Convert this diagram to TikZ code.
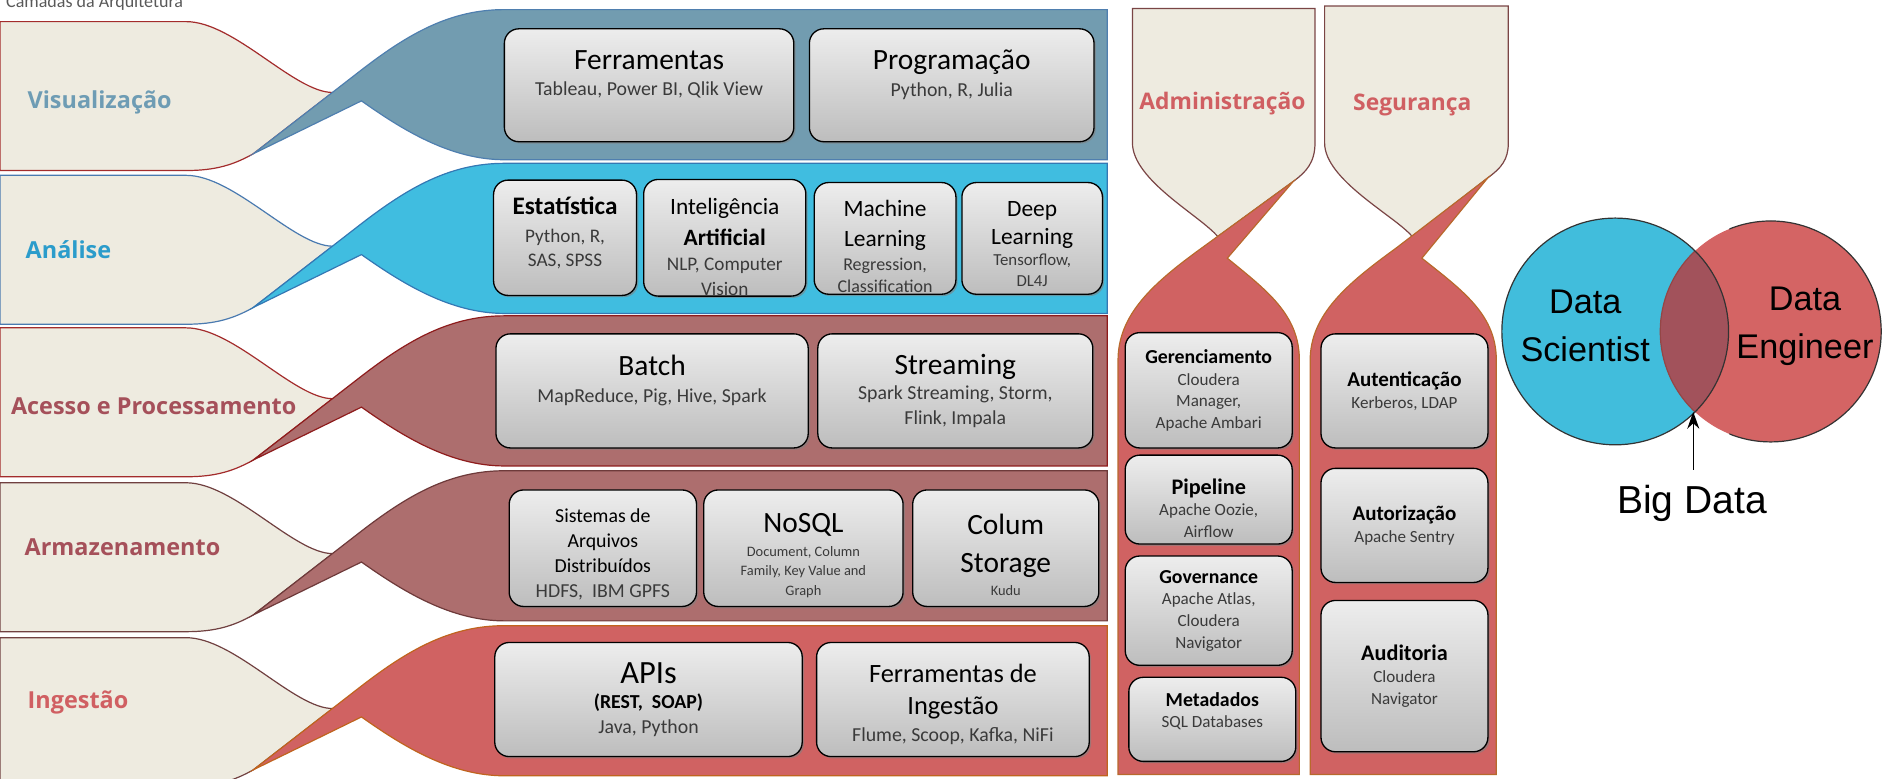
\documentclass[tikz,border=0pt]{standalone}
\usepackage{fontspec}
\setmainfont{Carlito}
\newfontfamily\labelfont{Open Sans}
\newfontfamily\vennfont{Liberation Sans}
\usetikzlibrary{shadows,arrows.meta}

\definecolor{beige}{HTML}{EEEBE0}
\definecolor{vizband}{HTML}{729CB0}
\definecolor{vizline}{HTML}{4F7FAF}
\definecolor{anaband}{HTML}{40BDE0}
\definecolor{analine}{HTML}{3478B4}
\definecolor{accband}{HTML}{AD6E6E}
\definecolor{accline}{HTML}{8E1C1C}
\definecolor{armband}{HTML}{AD6E6E}
\definecolor{armline}{HTML}{6E3A3A}
\definecolor{ingband}{HTML}{D06262}
\definecolor{ingline}{HTML}{C0641E}
\definecolor{tabred}{HTML}{A32C2C}
\definecolor{tabblue}{HTML}{4A7AB0}
\definecolor{tabbrown}{HTML}{704040}
\definecolor{colband}{HTML}{D06262}
\definecolor{colline}{HTML}{B8692C}
\definecolor{coltab}{HTML}{7A4545}
\definecolor{boxtop}{HTML}{EDEDED}
\definecolor{boxbot}{HTML}{BDBDBD}
\definecolor{subgray}{HTML}{3A3A3A}
\definecolor{vizlab}{HTML}{6E9CB4}
\definecolor{analab}{HTML}{2B9CCB}
\definecolor{acclab}{HTML}{A5505A}
\definecolor{inglab}{HTML}{D05F62}
\definecolor{venncyan}{HTML}{41BDDC}
\definecolor{vennred}{HTML}{D46464}
\definecolor{vennmid}{HTML}{A2525B}

\newcommand{\fttl}{\fontsize{24.5}{28}\selectfont\color{black}}
\newcommand{\fmid}{\fontsize{19.5}{24}\selectfont\color{black}}
\newcommand{\fsml}{\fontsize{12}{16}\selectfont}
\newcommand{\fadm}{\fontsize{16.5}{20}\selectfont\bfseries\color{black}}
\newcommand{\hd}{\color{black}}

\begin{document}
\begin{tikzpicture}[x=1pt, y=-1pt,
	box/.style={draw=black, line width=1.1pt, rounded corners=12pt,
		top color=boxtop, bottom color=boxbot, align=center, inner sep=0pt,
		drop shadow={shadow xshift=1.5pt, shadow yshift=-1.5pt, opacity=.6},
		font=\fontsize{16.5}{21}\selectfont, text=subgray},
	admbox/.style={box, font=\fontsize{14.2}{18}\selectfont},
	layer/.style={font=\labelfont\bfseries\fontsize{19.5}{22}\selectfont},
	column/.style={font=\labelfont\bfseries\fontsize{19}{22}\selectfont, text=inglab},
	venntext/.style={font=\vennfont\fontsize{28.5}{40}\selectfont, align=center}]
	\useasboundingbox (0,0) rectangle (1568,648);
	\clip (0,0) rectangle (1568,648);
	% title, cut at the top
	\node[anchor=base west, inner sep=0pt, text=black!65, font=\fontsize{15}{18}\selectfont] (title) at (5,6) {Camadas da Arquitetura};
	% tabs and bands of the layers
	\foreach \t/\fc/\dc/\tc in {18/vizband/vizline/tabred, 146/anaband/analine/tabblue, 273/accband/accline/tabred, 402/armband/armline/tabbrown, 531/ingband/ingline/tabbrown}
	{
		\filldraw[fill=beige, draw=\tc, line width=1pt] (0,\t) -- (155,\t) .. controls (195,\t) and (245,\t+59) .. (277,\t+59) -- (211,\t+110) .. controls (195,\t+119) and (180,\t+124) .. (155,\t+124) -- (0,\t+124) -- cycle;
		\filldraw[fill=\fc, draw=\dc, line width=1pt] (211,\t+110) -- (300,\t+41) .. controls (340,\t+10) and (375,\t-10) .. (420,\t-10) -- (922,\t-10) -- (922,\t+115) -- (420,\t+115) .. controls (375,\t+115) and (335,\t+90) .. (301,\t+66) -- cycle;
	}
	% layer names
	\node[layer, text=vizlab] (viz) at (83,85) {Visualização};
	\node[layer, text=analab] (ana) at (57,208) {Análise};
	\node[layer, text=acclab] (acc) at (128,338) {Acesso e Processamento};
	\node[layer, text=acclab] (arm) at (102,456) {Armazenamento};
	\node[layer, text=inglab] (ing) at (65,585) {Ingestão};
	% columns Administração and Segurança
	\filldraw[fill=beige, draw=coltab, line width=1pt] (943,7) -- (1095,7) -- (1095,119) .. controls (1095,135) and (1088,143) .. (1077,151) -- (1014,197) .. controls (1000,180) and (943,150) .. (943,119) -- cycle;
	\filldraw[fill=colband, draw=colline, line width=1pt] (1077,151) -- (1000,207) .. controls (960,236) and (931,262) .. (931,300) -- (931,645) -- (1082,645) -- (1082,300) .. controls (1082,262) and (1055,242) .. (1022,215) -- cycle;
	\filldraw[fill=beige, draw=coltab, line width=1pt] (1103,5) -- (1256,5) -- (1256,119) .. controls (1256,133) and (1250,140) .. (1239,148) -- (1176,197) .. controls (1162,180) and (1103,150) .. (1103,119) -- cycle;
	\filldraw[fill=colband, draw=colline, line width=1pt] (1239,148) -- (1162,207) .. controls (1122,236) and (1091,262) .. (1091,300) -- (1091,645) -- (1246,645) -- (1246,300) .. controls (1246,262) and (1218,242) .. (1184,215) -- cycle;
	\node[column] (adm) at (1018,86) {Administração};
	\node[column] (seg) at (1176,87) {Segurança};
	% Visualização
	\node[box, minimum width=241pt, minimum height=94pt] (ferr) at (540.5,71) {{\fttl Ferramentas}\\[1pt]Tableau, Power BI, Qlik View\\[-7pt]\strut};
	\node[box, minimum width=237pt, minimum height=94pt] (prog) at (792.5,71) {{\fttl Programação}\\[1pt]Python, R, Julia\\[-7pt]\strut};
	% Análise
	\node[box, minimum width=119pt, minimum height=96pt, font=\fontsize{16}{20}\selectfont] (est) at (470.5,198) {{\fontsize{21}{24}\selectfont\bfseries\hd Estatística}\\[3pt]Python, R,\\SAS, SPSS\\[-16pt]\strut};
	\node[box, minimum width=135pt, minimum height=96pt, font=\fontsize{16}{21}\selectfont] (ia) at (603.5,198) {{\fmid\rule{0pt}{29pt}Inteligência}\\[5pt]{\fmid\bfseries Artificial}\\NLP, Computer\\Vision};
	\node[box, minimum width=118pt, minimum height=93pt, font=\fontsize{15}{19}\selectfont] (ml) at (737,198.5) {{\fmid\rule{0pt}{27pt}Machine}\\[6pt]{\fmid Learning}\\[1pt]Regression,\\Classification};
	\node[box, minimum width=117pt, minimum height=93pt, font=\fontsize{14}{17}\selectfont] (dl) at (859.5,198.5) {{\fmid\rule{0pt}{22pt}Deep}\\[6pt]{\fmid Learning}\\[1pt]Tensorflow,\\DL4J};
	% Acesso e Processamento
	\node[box, minimum width=260pt, minimum height=95pt] (batch) at (543,325.5) {{\fttl Batch}\\[1pt]MapReduce, Pig, Hive, Spark\\[-7pt]\strut};
	\node[box, minimum width=229pt, minimum height=95pt] (stream) at (795.5,325.5) {{\fttl Streaming}\\Spark Streaming, Storm,\\Flink, Impala};
	% Armazenamento
	\node[box, minimum width=156pt, minimum height=97pt] (sis) at (502,456.5) {{\hd\rule{0pt}{22pt}Sistemas de}\\{\hd Arquivos}\\{\hd Distribuídos}\\HDFS,\ \ IBM GPFS};
	\node[box, minimum width=166pt, minimum height=97pt, font=\fsml] (nosql) at (669,456.5) {{\fttl\rule{0pt}{28pt}NoSQL}\\[4pt]Document, Column\\Family, Key Value and\\Graph};
	\node[box, minimum width=155pt, minimum height=97pt, font=\fsml] (colum) at (837.5,456.5) {{\fttl\rule{0pt}{28pt}Colum}\\[14pt]{\fttl Storage}\\[3pt]Kudu};
	% Ingestão
	\node[box, minimum width=256pt, minimum height=95pt] (api) at (540,582.5) {{\fontsize{27}{30}\selectfont\hd APIs}\\{\bfseries\hd (REST,\ \ SOAP)}\\Java, Python};
	\node[box, minimum width=227pt, minimum height=95pt] (fing) at (793.5,582.5) {{\fontsize{22}{26}\selectfont\hd\rule{0pt}{24pt}Ferramentas de}\\[5pt]{\fontsize{22}{26}\selectfont\hd Ingestão}\\[2pt]Flume, Scoop, Kafka, NiFi};
	% Administração
	\node[admbox, minimum width=139pt, minimum height=96pt] (ger) at (1006.5,325) {{\fadm Gerenciamento}\\Cloudera\\Manager,\\Apache Ambari};
	\node[admbox, minimum width=139pt, minimum height=74pt] (pipe) at (1006.5,416) {{\fadm\fontsize{18.5}{22}\selectfont\rule{0pt}{27pt}Pipeline}\\Apache Oozie,\\Airflow};
	\node[admbox, minimum width=139pt, minimum height=91pt] (gov) at (1006.5,508.5) {{\fadm Governance}\\Apache Atlas,\\Cloudera\\Navigator};
	\node[admbox, minimum width=139pt, minimum height=70pt] (meta) at (1009.5,599) {{\fadm Metadados}\\SQL Databases\\[-8pt]\strut};
	% Segurança
	\node[admbox, minimum width=139pt, minimum height=95pt] (aut) at (1169.5,325.5) {{\fadm\fontsize{17.5}{21}\selectfont Autenticação}\\Kerberos, LDAP};
	\node[admbox, minimum width=139pt, minimum height=95pt] (autz) at (1169.5,437.5) {{\fadm\fontsize{17.5}{21}\selectfont Autorização}\\Apache Sentry};
	\node[admbox, minimum width=139pt, minimum height=126pt] (aud) at (1169.5,563) {{\fadm\fontsize{18.5}{22}\selectfont Auditoria}\\Cloudera\\Navigator};
	% Venn diagram
	\coordinate (sci) at (1345,276);
	\coordinate (eng) at (1474.5,276);
	\fill[venncyan] (sci) circle (94.4);
	\fill[vennred] (eng) circle (92);
	\begin{scope}
		\clip (sci) circle (94.4);
		\fill[vennmid] (eng) circle (92);
		\draw[vennred!70!black, line width=1pt] (eng) circle (92);
	\end{scope}
	\draw[black!80, line width=1pt] (sci) circle (94.4);
	\begin{scope}
		\clip (1568,0) rectangle (1440,648);
		\draw[black!80, line width=1pt] (eng) circle (92);
	\end{scope}
	\node[venntext] (scit) at (1320,271) {Data\\Scientist};
	\node[venntext] (engt) at (1503,272) {Data\\Engineer};
	\node[venntext, font=\vennfont\fontsize{32.5}{38}\selectfont] (bigd) at (1409,419) {Big Data};
	\coordinate (meet) at (1410,343);
	\draw[-{Stealth[length=14pt, width=10pt]}, line width=1pt, shorten <=9pt] (meet |- bigd.north) -- (meet);
\end{tikzpicture}
\end{document}
